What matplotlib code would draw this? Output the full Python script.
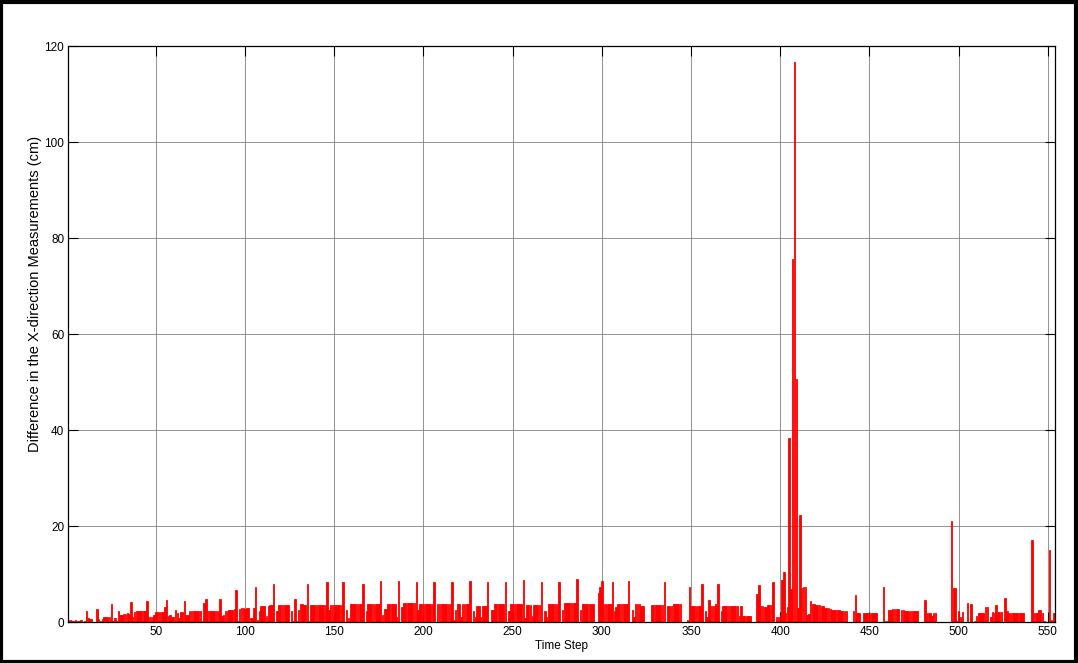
import numpy as np
import matplotlib
matplotlib.use("Agg")
import matplotlib.pyplot as plt
from matplotlib.patches import Rectangle

plt.rcParams['font.family'] = ['Liberation Sans', 'DejaVu Sans']

# difference in x-direction measurements (cm), one value per time step 1..554
x_diff = [
    0.4, 0.4, 0.3, 0.3, 0.4, 0.3, 0.3, 0.4, 0.0, 0.2,
    2.3, 0.8, 0.7, 0.7, 0.0, 0.0, 2.8, 0.7, 0.3, 0.6,
    1.0, 1.0, 1.1, 1.0, 3.7, 0.3, 0.8, 0.2, 2.3, 1.5,
    1.5, 1.7, 1.7, 1.8, 1.7, 4.2, 1.0, 2.1, 2.4, 2.4,
    2.4, 2.3, 2.3, 2.2, 4.4, 1.0, 1.0, 1.0, 1.5, 2.0,
    2.0, 2.0, 2.0, 2.0, 3.1, 4.5, 1.2, 1.5, 1.0, 1.0,
    2.6, 1.8, 0.8, 2.0, 2.0, 4.4, 1.5, 1.5, 2.2, 2.3,
    2.3, 2.4, 2.4, 2.4, 2.4, 0.2, 3.9, 4.9, 2.2, 2.2,
    2.2, 2.2, 2.2, 2.2, 2.2, 4.9, 1.3, 1.5, 2.3, 2.3,
    2.6, 2.6, 2.6, 2.8, 6.7, 0.2, 2.8, 2.9, 2.9, 2.8,
    2.9, 2.9, 0.9, 0.9, 3.0, 7.3, 0.5, 2.2, 3.3, 3.3,
    3.3, 1.3, 3.3, 3.5, 3.5, 8.0, 0.0, 2.2, 3.5, 3.5,
    3.5, 3.5, 3.5, 3.5, 0.0, 2.4, 0.2, 4.9, 0.2, 2.6,
    3.7, 3.7, 3.5, 3.5, 7.9, 0.2, 3.5, 3.5, 3.5, 3.5,
    3.5, 3.5, 3.5, 3.5, 3.5, 8.3, 2.6, 3.5, 3.5, 3.5,
    3.5, 3.5, 3.5, 3.5, 8.3, 0.0, 2.6, 0.8, 3.7, 3.7,
    3.7, 3.7, 3.7, 3.7, 3.7, 8.0, 0.0, 2.2, 3.8, 3.8,
    3.8, 3.8, 3.8, 3.8, 3.8, 8.5, 1.5, 2.8, 2.8, 3.8,
    3.8, 3.8, 3.8, 3.8, 1.1, 8.5, 0.0, 3.2, 4.0, 4.0,
    4.0, 4.0, 4.0, 4.0, 4.0, 8.3, 2.6, 3.7, 3.7, 3.7,
    3.7, 3.7, 3.7, 3.7, 3.7, 8.3, 0.0, 3.7, 3.7, 3.7,
    3.7, 3.7, 3.7, 3.7, 3.7, 8.3, 0.5, 2.6, 3.7, 3.7,
    1.0, 3.7, 3.7, 3.7, 3.7, 8.5, 0.0, 2.2, 1.1, 3.4,
    3.4, 1.1, 3.4, 3.4, 3.4, 8.3, 0.0, 2.6, 2.6, 3.7,
    3.7, 3.7, 3.7, 3.7, 3.7, 8.3, 0.0, 2.2, 3.7, 3.7,
    3.7, 3.7, 3.7, 3.7, 3.7, 8.7, 0.8, 3.5, 3.5, 3.5,
    1.3, 3.5, 3.5, 3.5, 3.5, 8.3, 0.0, 2.4, 1.1, 3.7,
    3.7, 3.7, 3.7, 3.7, 3.7, 8.4, 0.0, 2.6, 3.9, 3.9,
    3.9, 3.9, 3.9, 3.9, 3.9, 8.9, 0.0, 2.6, 3.7, 3.7,
    3.7, 3.7, 3.7, 3.7, 3.7, 0.0, 0.0, 6.0, 7.2, 8.6,
    3.7, 3.7, 3.7, 3.7, 3.7, 8.3, 2.3, 3.2, 3.7, 3.7,
    3.7, 3.7, 3.7, 3.7, 8.5, 0.0, 2.5, 1.1, 3.7, 3.7,
    3.7, 3.4, 3.4, 0.0, 0.0, 0.0, 0.0, 3.5, 3.5, 3.5,
    3.5, 3.5, 3.5, 3.5, 8.3, 0.0, 3.4, 3.4, 3.4, 3.7,
    3.7, 3.7, 3.7, 3.7, 0.0, 0.0, 0.0, 0.4, 7.2, 3.4,
    3.4, 3.4, 3.4, 3.4, 3.4, 7.9, 0.0, 2.4, 1.1, 4.6,
    3.4, 3.4, 3.4, 3.7, 7.9, 0.0, 2.3, 3.4, 3.4, 3.4,
    3.4, 3.4, 3.4, 3.4, 3.4, 3.4, 1.3, 3.4, 1.3, 1.3,
    1.3, 1.3, 1.3, 0.0, 0.0, 0.0, 5.9, 7.7, 3.4, 3.4,
    3.2, 3.2, 3.5, 3.5, 3.5, 8.4, 0.0, 1.1, 1.1, 1.6,
    8.7, 10.4, 1.9, 3.2, 38.3, 6.9, 75.6, 116.7, 50.6, 3.0,
    22.3, 7.0, 7.4, 7.3, 1.5, 1.6, 4.4, 3.7, 3.7, 3.6,
    3.6, 3.5, 3.4, 3.3, 3.0, 3.0, 2.9, 2.8, 2.6, 2.6,
    2.5, 2.5, 2.5, 2.4, 2.4, 2.3, 2.2, 0.0, 0.0, 0.0,
    2.2, 5.6, 1.8, 1.8, 0.0, 0.0, 1.8, 1.8, 1.8, 1.8,
    1.8, 1.8, 1.8, 1.8, 0.0, 0.0, 0.0, 7.4, 0.3, 0.2,
    2.6, 2.6, 2.7, 2.7, 2.7, 2.8, 0.0, 2.5, 2.5, 2.4,
    2.4, 2.4, 2.4, 2.3, 2.3, 2.3, 2.3, 0.0, 0.0, 0.0,
    4.6, 1.8, 1.8, 1.8, 1.3, 1.8, 1.8, 0.0, 0.0, 0.0,
    0.0, 0.0, 0.0, 0.0, 0.0, 21.1, 7.0, 7.0, 0.3, 2.2,
    1.1, 2.1, 0.0, 0.0, 4.0, 0.0, 3.8, 0.0, 0.2, 1.3,
    1.8, 1.8, 1.8, 1.8, 3.2, 3.1, 0.0, 1.1, 2.0, 1.8,
    3.5, 2.0, 2.0, 2.0, 0.0, 5.1, 2.2, 1.8, 1.8, 1.8,
    1.9, 1.8, 1.9, 1.9, 1.9, 1.8, 0.0, 0.0, 0.0, 0.0,
    17.1, 1.8, 1.8, 1.8, 2.5, 2.5, 1.8, 0.3, 0.0, 0.0,
    15.1, 0.5, 1.8, 1.8,
]
time_step = np.arange(1, len(x_diff) + 1)

x_ticks = [50, 100, 150, 200, 250, 300, 350, 400, 450, 500, 550]
y_ticks = [0, 20, 40, 60, 80, 100, 120]

fig = plt.figure(figsize=(10.78, 6.63), dpi=100)
ax = fig.add_axes([0.0635, 0.0618, 0.9152, 0.8688])

# MATLAB-like bars: thin red edge keeps every bar at least ~2px wide
ax.bar(time_step, x_diff, width=0.8, color='#ff0000', edgecolor='#ff0000',
       linewidth=0.6, zorder=2)

ax.set_xlim(1, 554)
ax.set_ylim(0, 120)
ax.set_xticks(x_ticks)
ax.set_yticks(y_ticks)
ax.grid(True, color='0.5', linestyle='-', linewidth=0.6)
ax.set_axisbelow(True)

ax.tick_params(direction='in', length=7.5, width=0.8, labelsize=8.5,
               top=True, right=True, pad=3)
for s in ax.spines.values():
    s.set_linewidth(0.9)
    s.set_color('black')

ax.set_xlabel('Time Step', fontsize=8.5, labelpad=1)
ax.set_ylabel('Difference in the X-direction Measurements (cm)', fontsize=10.5)
ax.yaxis.set_label_coords(-0.027, 0.57)

# black frame around the whole figure
fig.patches.append(Rectangle((0.001, 0.002), 0.997, 0.995, transform=fig.transFigure,
                             fill=False, edgecolor='black', linewidth=3))

fig.savefig('out.png', dpi=100)
